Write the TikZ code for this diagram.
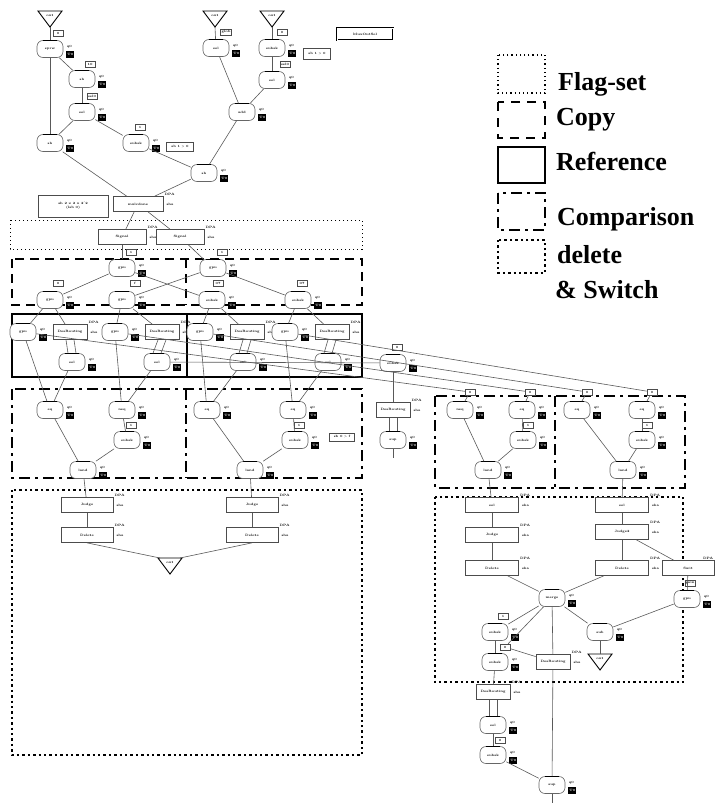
\documentclass[tikz,border=0pt]{standalone}
\usepackage{fontspec}
\newfontfamily\legfont{Liberation Serif}
\usetikzlibrary{calc}
\newcommand\tyf{\fontsize{3.2}{3.6}\selectfont\bfseries}
\tikzset{
 rnode/.style={draw=black!60, line width=0.6pt, rounded corners=6pt, minimum width=26pt, minimum height=17pt, inner sep=0pt, font=\tyf, fill=white},
 tagbox/.style={fill=black, text=white, minimum width=8pt, minimum height=7pt, inner sep=0pt, font=\tyf},
 tinytxt/.style={inner sep=0pt, font=\tyf},
 bxs/.style={draw=black!70, line width=0.7pt, minimum height=15pt, inner sep=1pt, font=\tyf, fill=white},
 lbl/.style={draw=black!70, line width=0.5pt, inner sep=0.8pt, minimum width=10pt, minimum height=6pt, font=\tyf, fill=white},
 conn/.style={draw=black!65, line width=0.6pt},
 flagreg/.style={line width=1pt, dash pattern=on 1pt off 3pt},
 copyreg/.style={line width=2pt, dash pattern=on 9pt off 6pt},
 refreg/.style={line width=2pt},
 compreg/.style={line width=2pt, dash pattern=on 11pt off 5pt on 3pt off 5pt},
 delreg/.style={line width=2.4pt, dash pattern=on 2.4pt off 3pt},
 legtext/.style={anchor=base west, inner sep=0pt, font=\legfont\bfseries\fontsize{26}{28}\selectfont}
}
\newcommand\rnd[4]{%
 \node[rnode] (#1) at (#2,#3) {#4};
 \draw[line width=1.3pt] ([xshift=-7pt]#1.north) -- ([xshift=7pt]#1.north);
 \node[tagbox] (#1t) at ([xshift=7pt,yshift=-5pt]#1.east) {T0};
 \node[tinytxt] at ([xshift=6pt,yshift=2.5pt]#1.east) {q0};
}
\newcommand\bxn[5]{%
 \node[bxs, minimum width=#4] (#1) at (#2,#3) {#5};
 \node[tinytxt, anchor=west] at ([xshift=3pt]#1.east) {sha};
 \node[tinytxt, anchor=south west] at ([xshift=1pt]#1.north east) {DPA};
}
\newcommand\trin[4]{%
 \coordinate (#1) at (#2,#3);
 \coordinate (#1tip) at (#2,#3+8);
 \coordinate (#1L) at (#2-10,#3-8);
 \coordinate (#1R) at (#2+10,#3-8);
 \draw[line width=0.9pt, fill=white] (#2-12,#3-8) -- (#2+12,#3-8) -- (#2,#3+8) -- cycle;
 \node[tinytxt] at (#2,#3-4) {#4};
}
\newcommand\lb[4]{\node[lbl] (#1) at (#2,#3) {#4};}
\newcommand\dbl[2]{%
 \draw[conn] ([xshift=-4pt]#1.south) -- ([xshift=-4pt]#2.north);
 \draw[conn] ([xshift=4pt]#1.south) -- ([xshift=4pt]#2.north);
}
\begin{document}
\begin{tikzpicture}[x=1pt,y=-1pt]
\path[use as bounding box] (0,0) rectangle (721,806);
% ---------------- regions
\draw[flagreg] (10,220) rectangle (362,249);
\draw[copyreg] (12,259) rectangle (362,305);
\draw[copyreg] (186,259) -- (186,305);
\draw[refreg] (12,314) rectangle (362,377);
\draw[refreg] (187,314) -- (187,377);
\draw[compreg] (12,389) rectangle (362,478);
\draw[compreg] (186,389) -- (186,478);
\draw[compreg] (435,396) rectangle (685,488);
\draw[compreg] (555,396) -- (555,488);
\draw[delreg] (12,490) rectangle (362,755);
\draw[delreg] (435,497) rectangle (683,682);
% ---------------- legend
\draw[line width=1.2pt, dash pattern=on 1.2pt off 3pt] (498,55) rectangle (545,93);
\draw[line width=2.2pt, dash pattern=on 9pt off 7pt] (498,102) rectangle (545,138);
\draw[line width=2.5pt] (498,147) rectangle (545,183);
\draw[line width=2.2pt, dash pattern=on 11pt off 5pt on 3pt off 5pt] (498,193) rectangle (545,230);
\draw[line width=2.4pt, dash pattern=on 2.4pt off 3pt] (498,240) rectangle (545,273);
\node[legtext] (lg1) at (558,90) {Flag-set};
\node[legtext] (lg2) at (556,125) {Copy};
\node[legtext] (lg3) at (556,170) {Reference};
\node[legtext] (lg4) at (557,225) {Comparison};
\node[legtext] (lg5) at (557,263) {delete};
\node[legtext] (lg6) at (555,298) {\& Switch};
% ---------------- top section
\trin{T1}{50}{19}{out}
\trin{T2}{215}{19}{out}
\trin{T3}{272}{19}{out}
\rnd{A1}{50}{49}{sprw}
\rnd{A2}{82}{79}{sh}
\rnd{A3}{82}{112}{sel}
\rnd{A4}{50}{143}{sh}
\rnd{A5}{136}{143}{subsk}
\rnd{B1}{216}{48}{sel}
\rnd{B2}{272}{48}{subsk}
\rnd{B3}{272}{80}{sel}
\rnd{B4}{242}{112}{add}
\rnd{B5}{204}{173}{sh}
\lb{la1}{58}{33}{0}
\lb{la2}{90}{64}{10}
\lb{la3}{92}{96}{sel0}
\lb{la5}{140}{127}{1}
\lb{lb1}{226}{32}{glob}
\lb{lb2}{282}{32}{0}
\lb{lb3}{285}{64}{sel0}
\bxn{ctrl}{138}{204}{50pt}{mulcdone}
\node[bxs, minimum width=70pt, minimum height=22pt, align=center] (cbox) at (73,206) {sh 2 x 2 x 2\^{}2\\(lsb 0)};
\node[draw, double, line width=0.5pt, minimum width=56pt, minimum height=12pt, inner sep=0pt, font=\tyf] (trbox) at (365,34) {MuxOutSel};
\node[lbl, minimum width=27pt, minimum height=9pt] (sb1) at (180,147) {sb 1 > 0};
\node[lbl, minimum width=27pt, minimum height=11pt] (sb2) at (317,54) {sb 1 > 0};
% ---------------- flag-set
\bxn{Sig1}{122}{237}{48pt}{Signal}
\bxn{Sig2}{180}{237}{48pt}{Signal}
\lb{lf1}{131}{252}{1}
\lb{lf2}{222}{252}{1}
% ---------------- copy
\rnd{C1}{122}{268}{gpu}
\rnd{C2}{213}{268}{gpu}
\rnd{D1}{50}{300}{gpu}
\rnd{D2}{122}{300}{gpu}
\rnd{D3}{212}{300}{subsk}
\rnd{D4}{298}{300}{subsk}
\lb{ld1}{58}{283}{0}
\lb{ld2}{135}{283}{f}
\lb{ld3}{218}{283}{07}
\lb{ld4}{302}{283}{07}
% ---------------- reference
\rnd{R1}{23}{332}{gpu}
\bxn{Q1r}{70}{332}{34pt}{DesRouting}
\rnd{R2}{115}{332}{gpu}
\bxn{Q2r}{162}{332}{34pt}{DesRouting}
\rnd{R3}{200}{332}{gpu}
\bxn{Q3r}{247}{332}{34pt}{DesRouting}
\rnd{R4}{285}{332}{gpu}
\bxn{Q4r}{332}{332}{34pt}{DesRouting}
\rnd{S1}{72}{362}{sel}
\rnd{S2}{157}{362}{sel}
\rnd{S3}{243}{362}{sel}
\rnd{S4}{328}{362}{sel}
% ---------------- outside chain
\rnd{X}{393}{363}{subsk}
\lb{lx}{397}{347}{0}
\bxn{Y}{393}{410}{34pt}{DesRouting}
\rnd{Z}{393}{440}{sup}
\coordinate (Zend) at (393,458);
% ---------------- comparison left
\rnd{E1}{50}{410}{eq}
\rnd{E2}{122}{410}{neq}
\rnd{F1}{127}{440}{subsk}
\rnd{G1}{83}{470}{land}
\rnd{E3}{207}{410}{eq}
\rnd{E4}{293}{410}{eq}
\rnd{F2}{295}{440}{subsk}
\rnd{G2}{250}{470}{land}
\lb{le1}{131}{425}{1}
\lb{le2}{299}{425}{1}
\node[lbl, minimum width=25pt, minimum height=8pt] (sb3) at (342,437) {sb 0 > f};
% ---------------- comparison right
\rnd{K1}{460}{410}{neq}
\rnd{K2}{522}{410}{eq}
\rnd{L1}{523}{440}{subsk}
\rnd{M1}{488}{470}{land}
\rnd{K3}{577}{410}{eq}
\rnd{K4}{642}{410}{eq}
\rnd{L2}{642}{440}{subsk}
\rnd{M2}{623}{470}{land}
\lb{K1l}{470}{392}{0}
\lb{K2l}{530}{392}{0}
\lb{K3l}{587}{392}{0}
\lb{K4l}{652}{392}{0}
\lb{ll1}{528}{425}{1}
\lb{ll2}{647}{425}{1}
% ---------------- delete left
\bxn{P1}{87}{505}{52pt}{Judge}
\bxn{P2}{87}{535}{52pt}{Delete}
\bxn{P3}{252}{505}{52pt}{Judge}
\bxn{P4}{252}{535}{52pt}{Delete}
\trin{T4}{170}{566}{out}
% ---------------- delete right
\bxn{Q1}{492}{505}{53pt}{sel}
\bxn{Q2}{492}{535}{53pt}{Judge}
\bxn{Q3}{492}{568}{53pt}{Delete}
\bxn{Q4}{622}{505}{53pt}{sel}
\bxn{Q5}{622}{532}{53pt}{Judge2}
\bxn{Q6}{622}{568}{53pt}{Delete}
\node[bxs, minimum width=52pt] (Q7) at (688,568) {Swit};
\node[tinytxt, anchor=south east] at ([xshift=-1pt]Q7.north east) {DPA};
\rnd{V}{552}{598}{merge}
\rnd{W}{687}{599}{gpu}
\lb{lw}{690}{583}{gain}
\rnd{U1}{495}{632}{subsk}
\rnd{U2}{600}{632}{sub}
\trin{T5}{600}{662}{out}
\rnd{U3}{495}{662}{subsk}
\lb{lu1}{503}{616}{1}
\lb{lu3}{505}{647}{0}
\bxn{DR}{553}{662}{34pt}{DesRouting}
% ---------------- below
\bxn{DR2}{493}{692}{34pt}{DesRouting}
\rnd{N1}{493}{725}{sel}
\lb{ln2}{500}{740}{0}
\rnd{N2}{493}{755}{subsk}
\rnd{N3}{552}{785}{sup}
\coordinate (N3end) at (552,803);
% ---------------- connectors
\draw[conn] (T1tip) -- (A1);
\draw[conn] (T2tip) -- (B1);
\draw[conn] (T3tip) -- (B2);
\draw[conn] (A1) -- (A2);
\draw[conn] (A1) -- (A4);
\draw[conn] (A2) -- (A3);
\draw[conn] (A3) -- (A4);
\draw[conn] (A3) -- (A5);
\draw[conn] (A4) -- (ctrl);
\draw[conn] (A5) -- (B5);
\draw[conn] (B1) -- (B4);
\draw[conn] (B2) -- (B3);
\draw[conn] (B3) -- (B4);
\draw[conn] (B4) -- (B5);
\draw[conn] (B5) -- (ctrl);
\draw[conn] (ctrl) -- (Sig1);
\draw[conn] (ctrl) -- (Sig2);
\draw[conn] (Sig1) -- (C1);
\draw[conn] (Sig2) -- (C2);
\draw[conn] (C1) -- (D1);
\draw[conn] (C1) -- (D3);
\draw[conn] (C2) -- (D2);
\draw[conn] (C2) -- (D4);
\draw[conn] (D1) -- (R1);
\draw[conn] (D1) -- (Q1r);
\draw[conn] (D2) -- (R2);
\draw[conn] (D2) -- (Q2r);
\draw[conn] (D3) -- (R3);
\draw[conn] (D3) -- (Q3r);
\draw[conn] (D4) -- (R4);
\draw[conn] (D4) -- (Q4r);
\dbl{Q1r}{S1}
\dbl{Q2r}{S2}
\dbl{Q3r}{S3}
\dbl{Q4r}{S4}
\draw[conn] (R1) -- (E1);
\draw[conn] (S1) -- (E1);
\draw[conn] (R2) -- (E2);
\draw[conn] (S2) -- (E2);
\draw[conn] (R3) -- (E3);
\draw[conn] (S3) -- (E3);
\draw[conn] (R4) -- (E4);
\draw[conn] (S4) -- (E4);
\draw[conn] (R1) -- (K1l);
\draw[conn] (R2) -- (K2l);
\draw[conn] (R3) -- (K3l);
\draw[conn] (R4) -- (K4l);
\draw[conn] (S2) -- (X);
\draw[conn] (X) -- (Y);
\dbl{Y}{Z}
\draw[conn] (Z) -- (Zend);
\draw[conn] (E1) -- (G1);
\draw[conn] (E2) -- (F1);
\draw[conn] (F1) -- (G1);
\draw[conn] (E3) -- (G2);
\draw[conn] (E4) -- (F2);
\draw[conn] (F2) -- (G2);
\draw[conn] (K1l) -- (K1);
\draw[conn] (K2l) -- (K2);
\draw[conn] (K3l) -- (K3);
\draw[conn] (K4l) -- (K4);
\draw[conn] (K1) -- (M1);
\draw[conn] (K2) -- (L1);
\draw[conn] (L1) -- (M1);
\draw[conn] (K3) -- (M2);
\draw[conn] (K4) -- (L2);
\draw[conn] (L2) -- (M2);
\draw[conn] (G1) -- (P1);
\draw[conn] (P1) -- (P2);
\draw[conn] (G2) -- (P3);
\draw[conn] (P3) -- (P4);
\draw[conn] (P2.south) -- (T4L);
\draw[conn] (P4.south) -- (T4R);
\draw[conn] (M1) -- (Q1);
\draw[conn] (Q1) -- (Q2);
\draw[conn] (Q2) -- (Q3);
\draw[conn] (M2) -- (Q4);
\draw[conn] (Q4) -- (Q5);
\draw[conn] (Q5) -- (Q6);
\draw[conn] (Q5) -- (Q7);
\draw[conn] (Q3) -- (V);
\draw[conn] (Q6) -- (V);
\draw[conn] (Q7) -- (W);
\draw[conn] (V) -- (U1);
\draw[conn] (V) -- (lu3);
\draw[conn] (V) -- (DR);
\draw[conn] (V) -- (U2);
\draw[conn] (W) -- (U2);
\draw[conn] (U2) -- (T5L -| U2);
\draw[conn] (U1) -- (U3);
\draw[conn] (lu3) -- (DR);
\draw[conn] (U3) -- (DR2);
\dbl{DR2}{N1}
\draw[conn] (N1) -- (N2);
\draw[conn] (N2) -- (N3);
\draw[conn] (DR) -- (N3);
\draw[conn] (N3) -- (N3end);
\end{tikzpicture}
\end{document}
